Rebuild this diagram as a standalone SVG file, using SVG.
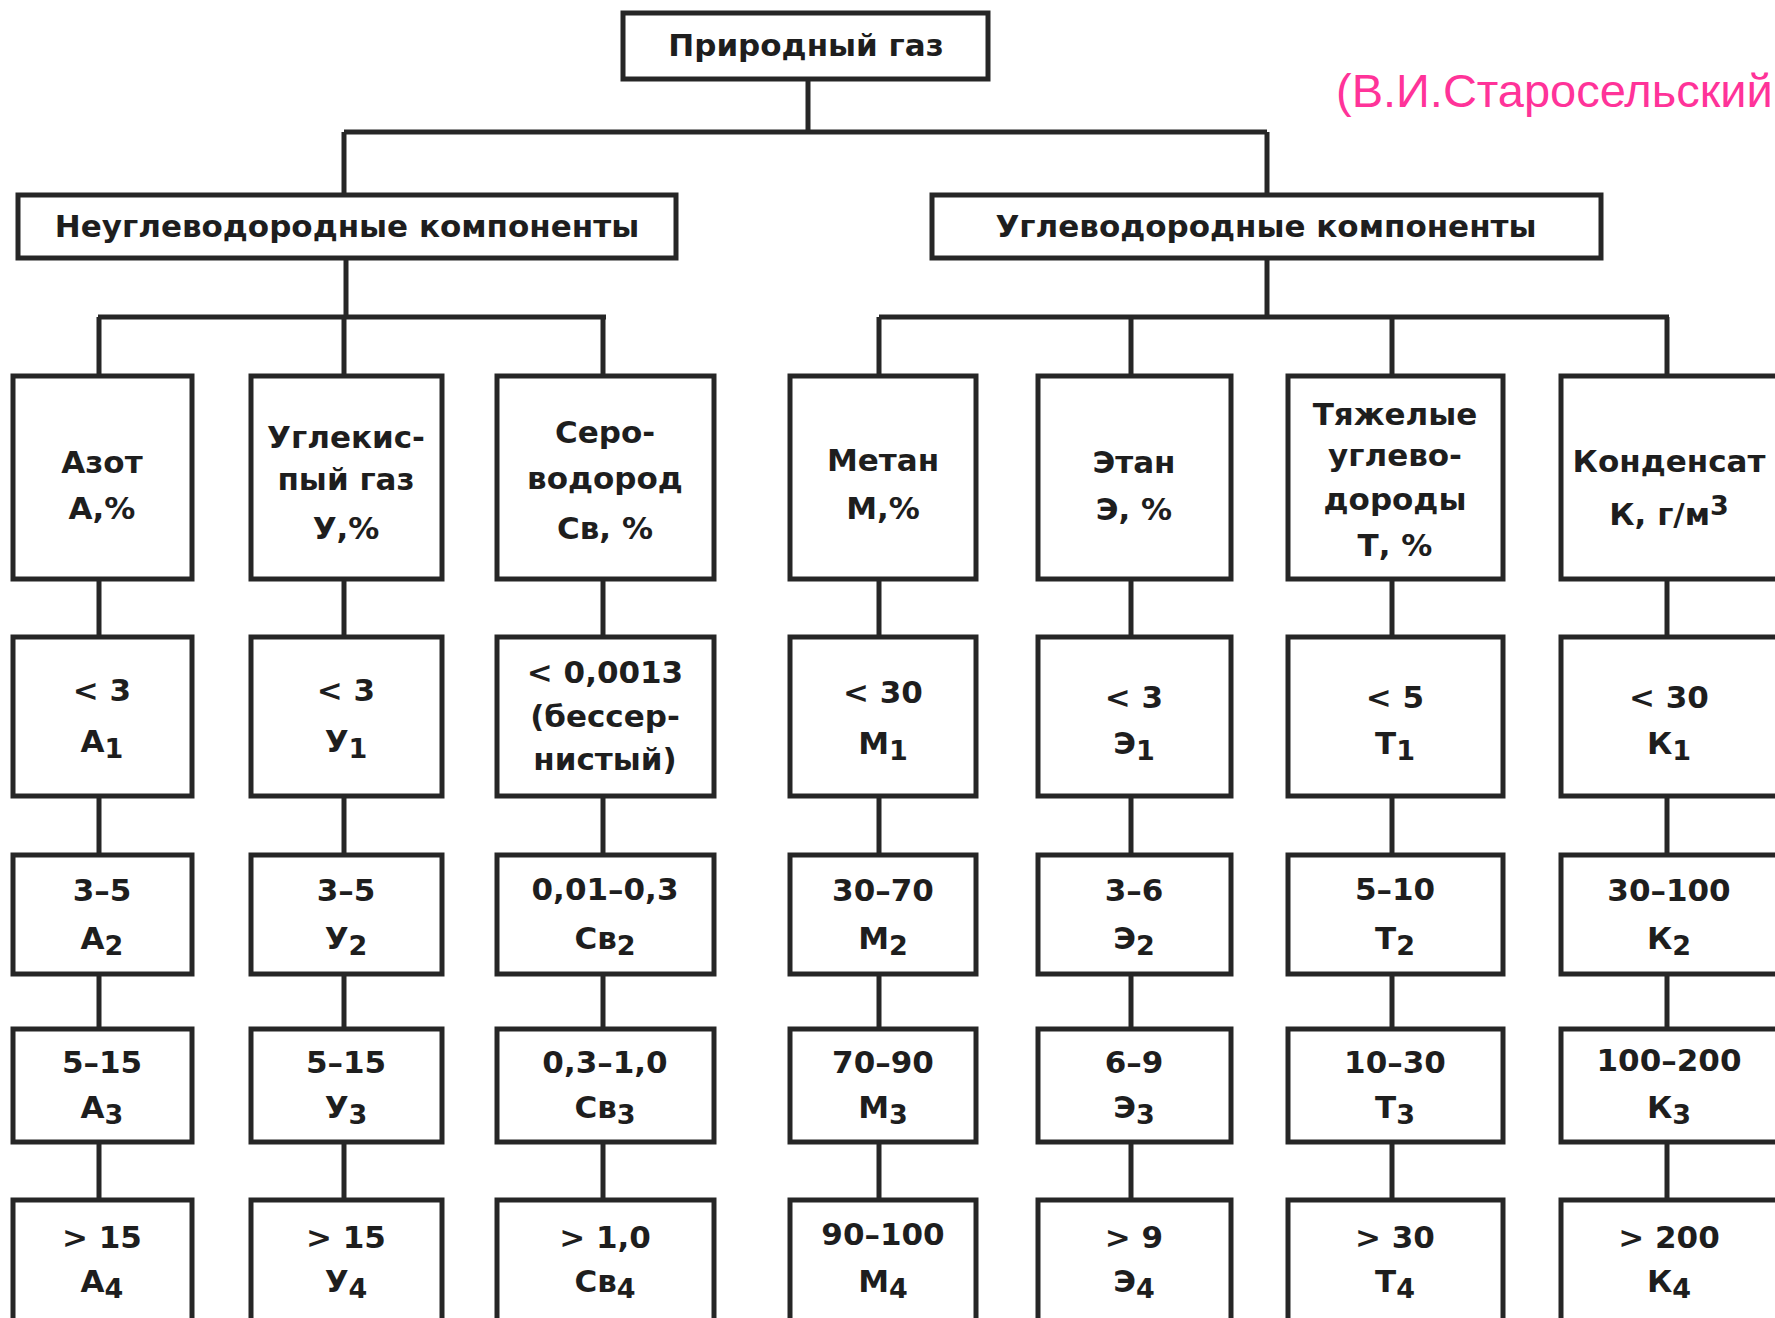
<svg xmlns="http://www.w3.org/2000/svg" width="1775" height="1318" viewBox="0 0 1775 1318">
<style>
.box{fill:#fff;stroke:#262626;stroke-width:5}
.ln{fill:none;stroke:#262626;stroke-width:5}
text{font-family:"DejaVu Sans","Liberation Sans",sans-serif;font-weight:bold;font-size:31px;fill:#1e1e1e;text-anchor:middle}
.sub{font-size:27px}
.src{font-family:"Liberation Sans",Arial,sans-serif;font-weight:normal;font-size:47px;fill:#ff3399;text-anchor:start}
</style>
<rect width="1775" height="1318" fill="#fff"/>
<text class="src" x="1336" y="107">(В.И.Старосельский</text>
<g id="connectors">
<path class="ln" d="M808 79V132M344 132H1267M344 132V195M1267 132V195"/>
<path class="ln" d="M346 258V317M98 317H606M99 317V377M344 317V377M603 317V377"/>
<path class="ln" d="M1267 258V317M879 317H1669M879 317V377M1131 317V377M1392 317V377M1667 317V377"/>
<path class="ln" d="M99 579V637M99 796V855M99 974V1029M99 1142V1200"/>
<path class="ln" d="M344 579V637M344 796V855M344 974V1029M344 1142V1200"/>
<path class="ln" d="M603 579V637M603 796V855M603 974V1029M603 1142V1200"/>
<path class="ln" d="M879 579V637M879 796V855M879 974V1029M879 1142V1200"/>
<path class="ln" d="M1131 579V637M1131 796V855M1131 974V1029M1131 1142V1200"/>
<path class="ln" d="M1392 579V637M1392 796V855M1392 974V1029M1392 1142V1200"/>
<path class="ln" d="M1667 579V637M1667 796V855M1667 974V1029M1667 1142V1200"/>
</g>
<g id="root"><rect class="box" x="623" y="13" width="365" height="66"/><text x="806" y="56">Природный газ</text></g>
<g id="nonhc"><rect class="box" x="18" y="195" width="658" height="63"/><text x="347" y="237">Неуглеводородные компоненты</text></g>
<g id="hc"><rect class="box" x="932" y="195" width="669" height="63"/><text x="1266" y="237">Углеводородные компоненты</text></g>

<g id="A0"><rect class="box" x="13" y="376" width="179" height="203"/><text x="102" y="473">Азот</text><text x="102" y="519">А,%</text></g>
<g id="A1"><rect class="box" x="13" y="637" width="179" height="159"/><text x="102" y="701">&lt; 3</text><text x="102" y="752">А<tspan class="sub" dy="6">1</tspan></text></g>
<g id="A2"><rect class="box" x="13" y="855" width="179" height="119"/><text x="102" y="901">3–5</text><text x="102" y="949">А<tspan class="sub" dy="6">2</tspan></text></g>
<g id="A3"><rect class="box" x="13" y="1029" width="179" height="113"/><text x="102" y="1073">5–15</text><text x="102" y="1118">А<tspan class="sub" dy="6">3</tspan></text></g>
<g id="A4"><rect class="box" x="13" y="1200" width="179" height="130"/><text x="102" y="1248">&gt; 15</text><text x="102" y="1292">А<tspan class="sub" dy="6">4</tspan></text></g>

<g id="U0"><rect class="box" x="251" y="376" width="191" height="203"/><text x="346" y="448">Углекис-</text><text x="346" y="490">пый газ</text><text x="346" y="539">У,%</text></g>
<g id="U1"><rect class="box" x="251" y="637" width="191" height="159"/><text x="346" y="701">&lt; 3</text><text x="346" y="752">У<tspan class="sub" dy="6">1</tspan></text></g>
<g id="U2"><rect class="box" x="251" y="855" width="191" height="119"/><text x="346" y="901">3–5</text><text x="346" y="949">У<tspan class="sub" dy="6">2</tspan></text></g>
<g id="U3"><rect class="box" x="251" y="1029" width="191" height="113"/><text x="346" y="1073">5–15</text><text x="346" y="1118">У<tspan class="sub" dy="6">3</tspan></text></g>
<g id="U4"><rect class="box" x="251" y="1200" width="191" height="130"/><text x="346" y="1248">&gt; 15</text><text x="346" y="1292">У<tspan class="sub" dy="6">4</tspan></text></g>

<g id="S0"><rect class="box" x="497" y="376" width="217" height="203"/><text x="605" y="443">Серо-</text><text x="605" y="489">водород</text><text x="605" y="539">Св, %</text></g>
<g id="S1"><rect class="box" x="497" y="637" width="217" height="159"/><text x="605" y="683">&lt; 0,0013</text><text x="605" y="727">(бессер-</text><text x="605" y="770">нистый)</text></g>
<g id="S2"><rect class="box" x="497" y="855" width="217" height="119"/><text x="605" y="900">0,01–0,3</text><text x="605" y="949">Св<tspan class="sub" dy="6">2</tspan></text></g>
<g id="S3"><rect class="box" x="497" y="1029" width="217" height="113"/><text x="605" y="1073">0,3–1,0</text><text x="605" y="1118">Св<tspan class="sub" dy="6">3</tspan></text></g>
<g id="S4"><rect class="box" x="497" y="1200" width="217" height="130"/><text x="605" y="1248">&gt; 1,0</text><text x="605" y="1292">Св<tspan class="sub" dy="6">4</tspan></text></g>

<g id="M0"><rect class="box" x="790" y="376" width="186" height="203"/><text x="883" y="471">Метан</text><text x="883" y="519">М,%</text></g>
<g id="M1"><rect class="box" x="790" y="637" width="186" height="159"/><text x="883" y="703">&lt; 30</text><text x="883" y="754">М<tspan class="sub" dy="6">1</tspan></text></g>
<g id="M2"><rect class="box" x="790" y="855" width="186" height="119"/><text x="883" y="901">30–70</text><text x="883" y="949">М<tspan class="sub" dy="6">2</tspan></text></g>
<g id="M3"><rect class="box" x="790" y="1029" width="186" height="113"/><text x="883" y="1073">70–90</text><text x="883" y="1118">М<tspan class="sub" dy="6">3</tspan></text></g>
<g id="M4"><rect class="box" x="790" y="1200" width="186" height="130"/><text x="883" y="1245">90–100</text><text x="883" y="1292">М<tspan class="sub" dy="6">4</tspan></text></g>

<g id="E0"><rect class="box" x="1038" y="376" width="193" height="203"/><text x="1134" y="473">Этан</text><text x="1134" y="520">Э, %</text></g>
<g id="E1"><rect class="box" x="1038" y="637" width="193" height="159"/><text x="1134" y="708">&lt; 3</text><text x="1134" y="754">Э<tspan class="sub" dy="6">1</tspan></text></g>
<g id="E2"><rect class="box" x="1038" y="855" width="193" height="119"/><text x="1134" y="901">3–6</text><text x="1134" y="949">Э<tspan class="sub" dy="6">2</tspan></text></g>
<g id="E3"><rect class="box" x="1038" y="1029" width="193" height="113"/><text x="1134" y="1073">6–9</text><text x="1134" y="1118">Э<tspan class="sub" dy="6">3</tspan></text></g>
<g id="E4"><rect class="box" x="1038" y="1200" width="193" height="130"/><text x="1134" y="1248">&gt; 9</text><text x="1134" y="1292">Э<tspan class="sub" dy="6">4</tspan></text></g>

<g id="T0"><rect class="box" x="1288" y="376" width="215" height="203"/><text x="1395" y="425">Тяжелые</text><text x="1395" y="466">углево-</text><text x="1395" y="510">дороды</text><text x="1395" y="556">Т, %</text></g>
<g id="T1"><rect class="box" x="1288" y="637" width="215" height="159"/><text x="1395" y="708">&lt; 5</text><text x="1395" y="754">Т<tspan class="sub" dy="6">1</tspan></text></g>
<g id="T2"><rect class="box" x="1288" y="855" width="215" height="119"/><text x="1395" y="900">5–10</text><text x="1395" y="949">Т<tspan class="sub" dy="6">2</tspan></text></g>
<g id="T3"><rect class="box" x="1288" y="1029" width="215" height="113"/><text x="1395" y="1073">10–30</text><text x="1395" y="1118">Т<tspan class="sub" dy="6">3</tspan></text></g>
<g id="T4"><rect class="box" x="1288" y="1200" width="215" height="130"/><text x="1395" y="1248">&gt; 30</text><text x="1395" y="1292">Т<tspan class="sub" dy="6">4</tspan></text></g>

<g id="K0"><rect class="box" x="1561" y="376" width="230" height="203"/><text x="1669" y="472">Конденсат</text><text x="1669" y="525">К, г/м<tspan class="sub" dy="-10">3</tspan></text></g>
<g id="K1"><rect class="box" x="1561" y="637" width="230" height="159"/><text x="1669" y="708">&lt; 30</text><text x="1669" y="754">К<tspan class="sub" dy="6">1</tspan></text></g>
<g id="K2"><rect class="box" x="1561" y="855" width="230" height="119"/><text x="1669" y="901">30–100</text><text x="1669" y="949">К<tspan class="sub" dy="6">2</tspan></text></g>
<g id="K3"><rect class="box" x="1561" y="1029" width="230" height="113"/><text x="1669" y="1071">100–200</text><text x="1669" y="1118">К<tspan class="sub" dy="6">3</tspan></text></g>
<g id="K4"><rect class="box" x="1561" y="1200" width="230" height="130"/><text x="1669" y="1248">&gt; 200</text><text x="1669" y="1292">К<tspan class="sub" dy="6">4</tspan></text></g>
</svg>
